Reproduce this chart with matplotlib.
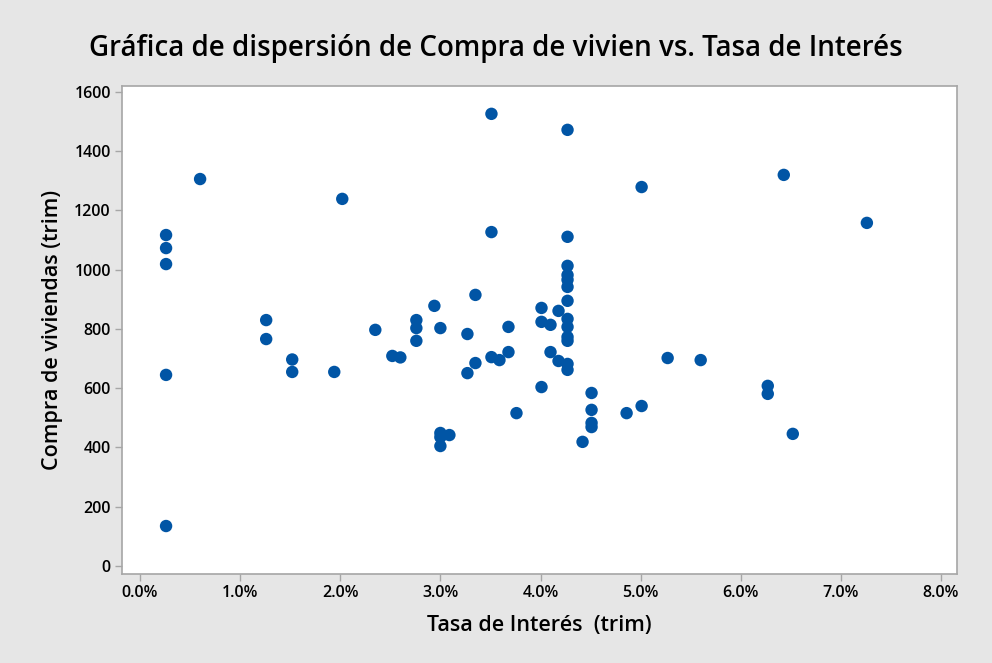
import matplotlib
matplotlib.use("Agg")
import matplotlib.pyplot as plt
from matplotlib.ticker import FuncFormatter

plt.rcParams['font.family'] = ['Open Sans', 'DejaVu Sans']

# Tasa de interés (%) por trimestre
tasa = [0.26, 0.26, 0.26, 0.26, 0.26,
        0.60,
        1.26, 1.26,
        1.52, 1.52,
        1.94,
        2.02,
        2.35,
        2.52,
        2.60,
        2.76, 2.76, 2.76,
        2.94,
        3.00, 3.00, 3.00, 3.00,
        3.09,
        3.27, 3.27,
        3.35, 3.35,
        3.51, 3.51, 3.51,
        3.59,
        3.68, 3.68,
        3.76,
        4.01, 4.01, 4.01,
        4.10, 4.10,
        4.18, 4.18,
        4.27, 4.27, 4.27, 4.27, 4.27, 4.27, 4.27, 4.27, 4.27, 4.27, 4.27, 4.27, 4.27,
        4.42,
        4.51, 4.51, 4.51, 4.51,
        4.86,
        5.01, 5.01,
        5.27,
        5.60,
        6.27, 6.27,
        6.43,
        6.52,
        7.26]

# Compra de viviendas por trimestre
compra = [1117, 1073, 1019, 645, 135,
          1306,
          830, 766,
          697, 655,
          655,
          1239,
          797,
          709,
          704,
          830, 803, 760,
          878,
          803, 449, 435, 405,
          442,
          783, 651,
          915, 685,
          1526, 1127, 705,
          695,
          807, 722,
          516,
          871, 824, 604,
          814, 722,
          861, 692,
          1472, 1111, 1013, 982, 966, 942, 895, 834, 807, 773, 760, 682, 662,
          419,
          584, 527, 483, 469,
          516,
          1279, 540,
          702,
          695,
          608, 581,
          1320,
          446,
          1158]

x_ticks = [0, 1, 2, 3, 4, 5, 6, 7, 8]
y_ticks = [0, 200, 400, 600, 800, 1000, 1200, 1400, 1600]

bg = "#e6e6e6"
spine_color = "#a6a6a6"

fig = plt.figure(figsize=(9.92, 6.63), dpi=100, facecolor=bg)
ax = fig.add_axes([0.123, 0.1342, 0.8417, 0.7361])
ax.set_facecolor("white")

ax.scatter(tasa, compra, s=80, color="#0155a5", edgecolors="none", zorder=3)

ax.set_xlim(-0.18, 8.16)
ax.set_ylim(-27, 1620)
ax.set_xticks(x_ticks)
ax.set_yticks(y_ticks)
ax.xaxis.set_major_formatter(FuncFormatter(lambda v, p: f"{v:.1f}%"))

for s in ax.spines.values():
    s.set_color(spine_color)
    s.set_linewidth(1.2)

ax.tick_params(axis="both", direction="out", length=5, width=1, color=spine_color,
               labelsize=11.5, pad=3)
for lbl in ax.get_xticklabels() + ax.get_yticklabels():
    lbl.set_fontweight("semibold")

ax.set_xlabel("Tasa de Interés  (trim)", fontsize=15.5, fontweight="semibold", labelpad=10)
ax.set_ylabel("Compra de viviendas (trim)", fontsize=15.5, fontweight="semibold", labelpad=8)

fig.text(0.5, 0.927, "Gráfica de dispersión de Compra de vivien vs. Tasa de Interés",
         ha="center", va="center", fontsize=20, fontweight="semibold")

fig.savefig("out.png", dpi=100, facecolor=bg)
